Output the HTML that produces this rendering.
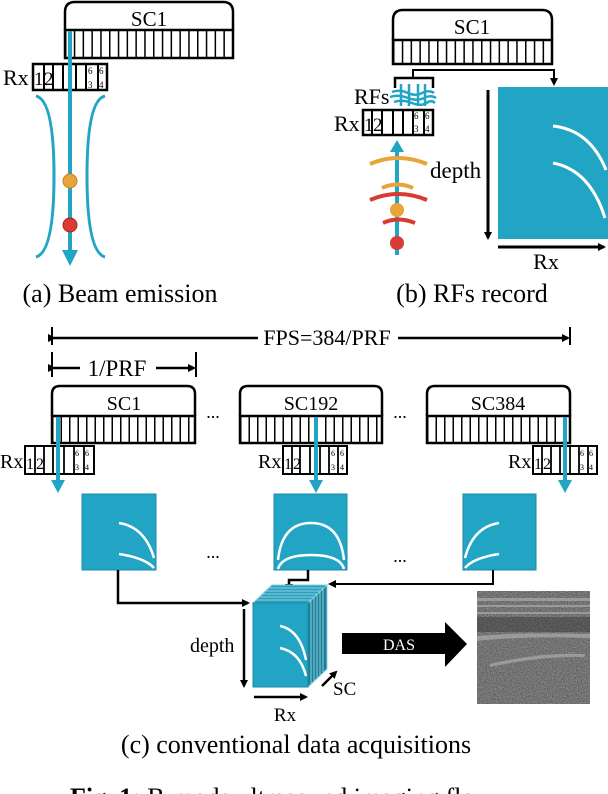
<!DOCTYPE html>
<html><head><meta charset="utf-8"><style>
html,body{margin:0;padding:0;background:#fff;}
svg{display:block;}
text{font-family:"Liberation Serif",serif;fill:#000;}
</style></head><body>
<svg width="608" height="794" viewBox="0 0 608 794" xmlns="http://www.w3.org/2000/svg">
<defs>
<marker id="ab" markerWidth="8" markerHeight="8" refX="6" refY="4" orient="auto" markerUnits="userSpaceOnUse"><path d="M0,0 L8,4 L0,8 z" fill="#000"/></marker>
<filter id="noise" x="0" y="0" width="100%" height="100%"><feTurbulence type="fractalNoise" baseFrequency="0.8" numOctaves="2" seed="3"/><feColorMatrix type="matrix" values="0 0 0 0 0.6  0 0 0 0 0.6  0 0 0 0 0.6  0 0 0 1 0"/></filter>
</defs>

<!-- (a) -->
<path d="M65,30 V12 Q65,2 75,2 H223 Q233,2 233,12 V30" fill="#fff" stroke="#000" stroke-width="2.5"/>
<text x="149" y="26" font-size="21" text-anchor="middle">SC1</text>
<line x1="65" y1="44" x2="233" y2="44" stroke="#000" stroke-width="28" stroke-dasharray="1.5 7.3"/>
<rect x="65" y="30" width="168" height="28" fill="none" stroke="#000" stroke-width="2.5"/>
<rect x="33" y="64" width="74" height="26" fill="#fff" stroke="#000" stroke-width="2.5"/>
<g stroke="#000" stroke-width="2"><line x1="44" y1="64" x2="44" y2="90"/><line x1="53" y1="64" x2="53" y2="90"/><line x1="63" y1="64" x2="63" y2="90"/><line x1="76" y1="64" x2="76" y2="90"/><line x1="86" y1="64" x2="86" y2="90"/><line x1="98" y1="64" x2="98" y2="90"/></g>
<text x="3" y="85" font-size="22">Rx</text>
<text x="34" y="85" font-size="19">1</text><text x="44" y="85" font-size="19">2</text>
<text x="88" y="74" font-size="9">6</text><text x="88" y="88" font-size="9">3</text><text x="99" y="74" font-size="9">6</text><text x="99" y="88" font-size="9">4</text>
<line x1="70" y1="31" x2="70" y2="252" stroke="#22a5c5" stroke-width="4"/>
<path d="M62,250 L78,250 L70,266 z" fill="#22a5c5"/>
<path d="M36,96 Q54,100 54,176 Q54,252 36,257" fill="none" stroke="#22a5c5" stroke-width="3"/>
<path d="M105,96 Q87,100 87,176 Q87,252 105,257" fill="none" stroke="#22a5c5" stroke-width="3"/>
<circle cx="70" cy="181" r="7" fill="#e8a33a" stroke="#c88020"/>
<circle cx="70" cy="225" r="7" fill="#d83a34" stroke="#b02020"/>
<text x="120" y="302" font-size="26" text-anchor="middle">(a) Beam emission</text>

<!-- (b) -->
<path d="M393,40 V20 Q393,10 403,10 H542 Q552,10 552,20 V40" fill="#fff" stroke="#000" stroke-width="2.5"/>
<text x="472" y="34" font-size="21" text-anchor="middle">SC1</text>
<line x1="393" y1="52" x2="552" y2="52" stroke="#000" stroke-width="24" stroke-dasharray="1.5 7.3"/>
<rect x="393" y="40" width="159" height="24" fill="none" stroke="#000" stroke-width="2.5"/>
<path d="M395,88 V78 H433 V88" fill="none" stroke="#000" stroke-width="2.5"/>
<path d="M413,78 V70 H554 V84" fill="none" stroke="#000" stroke-width="2" marker-end="url(#ab)"/>
<g stroke="#22a5c5" stroke-width="2.5" fill="none">
<path d="M392,92 Q400,89 408,93 T424,92 Q430,90 434,93"/><path d="M390,97 Q398,94 408,98 T426,97 Q432,95 436,98"/><path d="M394,102 Q402,99 412,103 T428,102 Q432,100 435,103"/>
<line x1="401" y1="84" x2="401" y2="106"/><line x1="409" y1="84" x2="409" y2="106"/><line x1="418" y1="84" x2="418" y2="106"/><line x1="425" y1="84" x2="425" y2="106"/>
</g>
<text x="354" y="104" font-size="22">RFs</text>
<rect x="363" y="110" width="70" height="25" fill="#fff" stroke="#000" stroke-width="2.5"/>
<g stroke="#000" stroke-width="2"><line x1="372" y1="110" x2="372" y2="135"/><line x1="382" y1="110" x2="382" y2="135"/><line x1="393" y1="110" x2="393" y2="135"/><line x1="403" y1="110" x2="403" y2="135"/><line x1="413" y1="110" x2="413" y2="135"/><line x1="424" y1="110" x2="424" y2="135"/></g>
<text x="334" y="131" font-size="22">Rx</text>
<text x="364" y="131" font-size="19">1</text><text x="373" y="131" font-size="19">2</text>
<text x="414" y="119" font-size="9">6</text><text x="414" y="132" font-size="9">3</text><text x="425" y="119" font-size="9">6</text><text x="425" y="132" font-size="9">4</text>
<line x1="397" y1="255" x2="397" y2="150" stroke="#22a5c5" stroke-width="4"/>
<path d="M390,152 L404,152 L397,140 z" fill="#22a5c5"/>
<g fill="none" stroke-width="4">
<path d="M370,164 Q398,152 427,164" stroke="#e8a33a"/>
<path d="M382,188 Q397,181 413,188" stroke="#e8a33a"/>
<path d="M370,200 Q398,188 427,200" stroke="#d83a34"/>
<path d="M383,223 Q398,216 415,223" stroke="#d83a34"/>
</g>
<circle cx="397" cy="210" r="7" fill="#e8a33a"/>
<circle cx="397" cy="243" r="7" fill="#d83a34"/>
<text x="430" y="178" font-size="23">depth</text>
<rect x="498" y="87" width="112" height="152" fill="#22a5c5"/>
<path d="M553,126 Q590,130 606,170" fill="none" stroke="#fff" stroke-width="3"/>
<path d="M553,163 Q590,170 605,218" fill="none" stroke="#fff" stroke-width="3"/>
<line x1="488" y1="90" x2="488" y2="238" stroke="#000" stroke-width="3" marker-end="url(#ab)"/>
<line x1="498" y1="247" x2="604" y2="247" stroke="#000" stroke-width="3" marker-end="url(#ab)"/>
<text x="546" y="269" font-size="22" text-anchor="middle">Rx</text>
<text x="472" y="302" font-size="26" text-anchor="middle">(b) RFs record</text>

<!-- (c) top -->
<line x1="52" y1="327" x2="52" y2="345" stroke="#000" stroke-width="2"/>
<line x1="570" y1="327" x2="570" y2="345" stroke="#000" stroke-width="2"/>
<line x1="54" y1="338" x2="258" y2="338" stroke="#000" stroke-width="2.5" marker-start="url(#ab)"/>
<line x1="398" y1="338" x2="568" y2="338" stroke="#000" stroke-width="2.5" marker-end="url(#ab)"/>
<text x="327" y="345" font-size="22" text-anchor="middle">FPS=384/PRF</text>
<line x1="52" y1="352" x2="52" y2="377" stroke="#000" stroke-width="2"/>
<line x1="196" y1="352" x2="196" y2="377" stroke="#000" stroke-width="2"/>
<line x1="54" y1="368" x2="80" y2="368" stroke="#000" stroke-width="2.5" marker-start="url(#ab)"/>
<line x1="156" y1="368" x2="194" y2="368" stroke="#000" stroke-width="2.5" marker-end="url(#ab)"/>
<text x="117" y="376" font-size="23" text-anchor="middle">1/PRF</text>

<!-- SC boxes -->
<g>
<path d="M52,416 V394 Q52,386 60,386 H187 Q195,386 195,394 V416" fill="#fff" stroke="#000" stroke-width="2.5"/>
<text x="124" y="410" font-size="20" text-anchor="middle">SC1</text>
<line x1="52" y1="430" x2="195" y2="430" stroke="#000" stroke-width="27" stroke-dasharray="1.5 7"/>
<rect x="52" y="416" width="143" height="27" fill="none" stroke="#000" stroke-width="2.5"/>
</g>
<g>
<path d="M240,416 V394 Q240,386 248,386 H374 Q382,386 382,394 V416" fill="#fff" stroke="#000" stroke-width="2.5"/>
<text x="311" y="410" font-size="20" text-anchor="middle">SC192</text>
<line x1="240" y1="430" x2="382" y2="430" stroke="#000" stroke-width="27" stroke-dasharray="1.5 7"/>
<rect x="240" y="416" width="142" height="27" fill="none" stroke="#000" stroke-width="2.5"/>
</g>
<g>
<path d="M427,416 V394 Q427,386 435,386 H562 Q570,386 570,394 V416" fill="#fff" stroke="#000" stroke-width="2.5"/>
<text x="498" y="410" font-size="20" text-anchor="middle">SC384</text>
<line x1="427" y1="430" x2="570" y2="430" stroke="#000" stroke-width="27" stroke-dasharray="1.5 7"/>
<rect x="427" y="416" width="143" height="27" fill="none" stroke="#000" stroke-width="2.5"/>
</g>
<text x="213" y="418" font-size="18" text-anchor="middle">...</text>
<text x="400" y="418" font-size="18" text-anchor="middle">...</text>

<!-- Rx small boxes -->
<g stroke="#000" stroke-width="2" fill="#fff">
<rect x="25" y="446" width="69" height="28"/>
<rect x="283" y="446" width="64" height="28"/>
<rect x="533" y="446" width="64" height="28"/>
</g>
<g stroke="#000" stroke-width="1.8">
<line x1="35" y1="446" x2="35" y2="474"/><line x1="44" y1="446" x2="44" y2="474"/><line x1="53" y1="446" x2="53" y2="474"/><line x1="64" y1="446" x2="64" y2="474"/><line x1="74" y1="446" x2="74" y2="474"/><line x1="84" y1="446" x2="84" y2="474"/>
<line x1="292" y1="446" x2="292" y2="474"/><line x1="300" y1="446" x2="300" y2="474"/><line x1="310" y1="446" x2="310" y2="474"/><line x1="320" y1="446" x2="320" y2="474"/><line x1="329" y1="446" x2="329" y2="474"/><line x1="338" y1="446" x2="338" y2="474"/>
<line x1="542" y1="446" x2="542" y2="474"/><line x1="551" y1="446" x2="551" y2="474"/><line x1="560" y1="446" x2="560" y2="474"/><line x1="570" y1="446" x2="570" y2="474"/><line x1="579" y1="446" x2="579" y2="474"/><line x1="588" y1="446" x2="588" y2="474"/>
</g>
<g font-size="20">
<text x="0" y="468">Rx</text><text x="258" y="468">Rx</text><text x="508" y="468">Rx</text>
<text x="26" y="469" font-size="16">1</text><text x="36" y="469" font-size="16">2</text>
<text x="284" y="469" font-size="16">1</text><text x="293" y="469" font-size="16">2</text>
<text x="534" y="469" font-size="16">1</text><text x="543" y="469" font-size="16">2</text>
</g>
<g font-size="8">
<text x="75" y="456">6</text><text x="75" y="470">3</text><text x="85" y="456">6</text><text x="85" y="470">4</text>
<text x="331" y="456">6</text><text x="331" y="470">3</text><text x="340" y="456">6</text><text x="340" y="470">4</text>
<text x="580" y="456">6</text><text x="580" y="470">3</text><text x="589" y="456">6</text><text x="589" y="470">4</text>
</g>
<g stroke="#22a5c5" stroke-width="4">
<line x1="58" y1="417" x2="58" y2="482"/><line x1="316" y1="417" x2="316" y2="482"/><line x1="565" y1="417" x2="565" y2="482"/>
</g>
<g fill="#22a5c5">
<path d="M51,480 L65,480 L58,493 z"/><path d="M309,480 L323,480 L316,493 z"/><path d="M558,480 L572,480 L565,493 z"/>
</g>

<!-- frames -->
<g fill="#22a5c5" stroke="#1a8aa6" stroke-width="1">
<rect x="82" y="494" width="74" height="76"/>
<rect x="274" y="494" width="73" height="76"/>
<rect x="463" y="494" width="73" height="76"/>
</g>
<g fill="none" stroke="#fff" stroke-width="2.5">
<path d="M119,523 Q145,527 154,558"/><path d="M119,554 Q145,558 154,568"/>
<path d="M278,560 Q282,523 311,523 Q340,523 344,560"/><path d="M278,569 Q282,555 311,555 Q340,555 344,569"/>
<path d="M499,523 Q473,527 465,558"/><path d="M499,554 Q473,558 465,568"/>
</g>
<text x="213" y="558" font-size="18" text-anchor="middle">...</text>
<text x="400" y="562" font-size="18" text-anchor="middle">...</text>

<!-- connectors -->
<path d="M118,570 V603 H248" fill="none" stroke="#000" stroke-width="2.5" marker-end="url(#ab)"/>
<path d="M308,570 V580 H289 V590" fill="none" stroke="#000" stroke-width="2.5" marker-end="url(#ab)"/>
<path d="M493,570 V584 H330" fill="none" stroke="#000" stroke-width="2" marker-end="url(#ab)"/>

<!-- stack -->
<g stroke="#8fd0e0" stroke-width="1">
<path d="M272,585 L327,585 L327,669 L308,687 L253,687 L253,603 z" fill="#1a7f97"/>
<path d="M253,603 L272,585 L327,585 L308,603 z" fill="#2aa0bd"/>
<line x1="256" y1="600" x2="311" y2="600"/><line x1="259" y1="597" x2="314" y2="597"/><line x1="262" y1="594" x2="317" y2="594"/><line x1="265" y1="591" x2="320" y2="591"/><line x1="268" y1="588" x2="323" y2="588"/>
<line x1="311" y1="600" x2="311" y2="684"/><line x1="314" y1="597" x2="314" y2="681"/><line x1="317" y1="594" x2="317" y2="678"/><line x1="320" y1="591" x2="320" y2="675"/><line x1="323" y1="588" x2="323" y2="672"/>
</g>
<rect x="253" y="603" width="55" height="84" fill="#22a5c5" stroke="#1a8aa6" stroke-width="1"/>
<path d="M280,626 Q300,630 306,660" fill="none" stroke="#fff" stroke-width="2.5"/>
<path d="M280,648 Q300,652 306,676" fill="none" stroke="#fff" stroke-width="2.5"/>
<line x1="244" y1="609" x2="244" y2="686" stroke="#000" stroke-width="2.5" marker-end="url(#ab)"/>
<text x="190" y="652" font-size="20">depth</text>
<line x1="254" y1="697" x2="306" y2="697" stroke="#000" stroke-width="2.5" marker-end="url(#ab)"/>
<text x="285" y="721" font-size="19" text-anchor="middle">Rx</text>
<line x1="322" y1="686" x2="336" y2="672" stroke="#000" stroke-width="2.5" marker-end="url(#ab)"/>
<text x="333" y="695" font-size="19">SC</text>

<!-- DAS -->
<path d="M342,633 H445 V622 L467,644 L445,667 V654 H342 z" fill="#000"/>
<text x="399" y="650" font-size="16" fill="#fff" style="fill:#fff" text-anchor="middle">DAS</text>

<!-- ultrasound image -->
<rect x="477" y="591" width="113" height="113" fill="#444"/>
<rect x="477" y="591" width="113" height="113" filter="url(#noise)" opacity="0.7"/>
<g fill="#bbb" opacity="0.55">
<rect x="477" y="598" width="113" height="3"/>
<rect x="477" y="605" width="113" height="2"/>
<rect x="477" y="612" width="113" height="2"/>
<path d="M477,636 Q520,632 590,634 L590,638 Q520,636 477,641 z"/>
<path d="M490,664 Q540,652 585,654 L585,657 Q540,656 490,667 z"/>
</g>
<rect x="477" y="617" width="113" height="15" fill="#222" opacity="0.35"/>

<text x="296" y="753" font-size="26" text-anchor="middle">(c) conventional data acquisitions</text>
<text x="70" y="806" font-size="26" font-weight="bold">Fig. 1: <tspan font-weight="normal">B-mode ultrasound imaging flow.</tspan></text>
</svg>
</body></html>
